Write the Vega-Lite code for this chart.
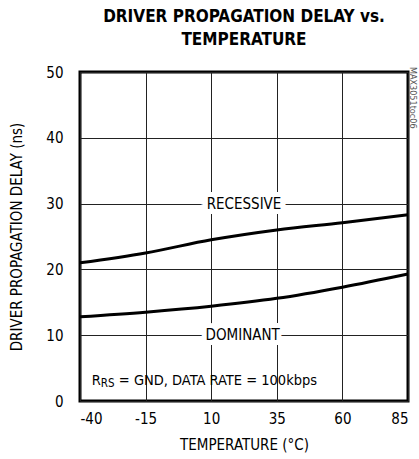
{
  "$schema": "https://vega.github.io/schema/vega-lite/v6.json",
  "width": 328,
  "height": 329,
  "autosize": {"type": "none"},
  "padding": {"left": 80, "top": 72, "right": 11, "bottom": 58},
  "background": "white",
  "config": {
    "font": "DejaVu Sans Condensed, Roboto, sans-serif",
    "view": {"stroke": "black", "strokeWidth": 3},
    "axis": {
      "grid": true, "gridColor": "#222", "gridWidth": 1, "gridOpacity": 1,
      "domain": false, "ticks": false,
      "labelFont": "DejaVu Sans Condensed, Roboto, sans-serif", "labelFontSize": 15, "labelColor": "black",
      "titleFont": "DejaVu Sans Condensed, Roboto, sans-serif", "titleFontSize": 15, "titleFontWeight": "normal", "titleColor": "black"
    }
  },
  "title": {
    "text": ["DRIVER PROPAGATION DELAY vs.", "TEMPERATURE"],
    "font": "DejaVu Sans Condensed, Roboto, sans-serif", "fontSize": 17, "fontWeight": "bold",
    "lineHeight": 23, "offset": 16, "color": "black", "anchor": "middle"
  },
  "datasets": {
    "curves": [
      {"temp": -40, "delay": 21.0, "mode": "RECESSIVE"},
      {"temp": -15, "delay": 22.5, "mode": "RECESSIVE"},
      {"temp": 10, "delay": 24.5, "mode": "RECESSIVE"},
      {"temp": 35, "delay": 26.0, "mode": "RECESSIVE"},
      {"temp": 60, "delay": 27.1, "mode": "RECESSIVE"},
      {"temp": 85, "delay": 28.3, "mode": "RECESSIVE"},
      {"temp": -40, "delay": 12.8, "mode": "DOMINANT"},
      {"temp": -15, "delay": 13.5, "mode": "DOMINANT"},
      {"temp": 10, "delay": 14.4, "mode": "DOMINANT"},
      {"temp": 35, "delay": 15.6, "mode": "DOMINANT"},
      {"temp": 60, "delay": 17.3, "mode": "DOMINANT"},
      {"temp": 85, "delay": 19.3, "mode": "DOMINANT"}
    ],
    "labels": [
      {"temp": 22.5, "delay": 30, "text": "RECESSIVE"},
      {"temp": 22.0, "delay": 10, "text": "DOMINANT"}
    ]
  },
  "layer": [
    {
      "data": {"name": "curves"},
      "mark": {"type": "line", "color": "black", "strokeWidth": 3, "interpolate": "monotone"},
      "encoding": {
        "x": {"field": "temp", "type": "quantitative", "scale": {"domain": [-40, 85], "nice": false},
          "axis": {"values": [-40, -15, 10, 35, 60, 85], "labelExpr": "'' + datum.value", "title": "TEMPERATURE (°C)", "labelPadding": 10, "titlePadding": 11}},
        "y": {"field": "delay", "type": "quantitative", "scale": {"domain": [0, 50], "nice": false},
          "axis": {"values": [0, 10, 20, 30, 40, 50], "title": "DRIVER PROPAGATION DELAY (ns)", "labelPadding": 17, "titlePadding": 21}},
        "detail": {"field": "mode"}
      }
    },
    {
      "data": {"name": "labels"},
      "mark": {"type": "text", "fontSize": 15, "stroke": "white", "strokeWidth": 10, "fill": "white", "baseline": "middle"},
      "encoding": {
        "x": {"field": "temp", "type": "quantitative"},
        "y": {"field": "delay", "type": "quantitative"},
        "text": {"field": "text"}
      }
    },
    {
      "data": {"name": "labels"},
      "mark": {"type": "text", "fontSize": 15, "color": "black", "baseline": "middle"},
      "encoding": {
        "x": {"field": "temp", "type": "quantitative"},
        "y": {"field": "delay", "type": "quantitative"},
        "text": {"field": "text"}
      }
    },
    {
      "data": {"values": [{"temp": -35.5, "delay": 3, "text": "R"}]},
      "mark": {"type": "text", "fontSize": 14.5, "color": "black", "align": "left", "baseline": "middle"},
      "encoding": {
        "x": {"field": "temp", "type": "quantitative"},
        "y": {"field": "delay", "type": "quantitative"},
        "text": {"field": "text"}
      }
    },
    {
      "data": {"values": [{"temp": -35.5, "delay": 3, "text": "RS"}]},
      "mark": {"type": "text", "fontSize": 11.5, "color": "black", "align": "left", "baseline": "middle", "dx": 9, "dy": 3},
      "encoding": {
        "x": {"field": "temp", "type": "quantitative"},
        "y": {"field": "delay", "type": "quantitative"},
        "text": {"field": "text"}
      }
    },
    {
      "data": {"values": [{"temp": -35.5, "delay": 3, "text": "= GND, DATA RATE = 100kbps"}]},
      "mark": {"type": "text", "fontSize": 14.5, "color": "black", "align": "left", "baseline": "middle", "dx": 27},
      "encoding": {
        "x": {"field": "temp", "type": "quantitative"},
        "y": {"field": "delay", "type": "quantitative"},
        "text": {"field": "text"}
      }
    },
    {
      "data": {"values": [{"temp": 85, "delay": 50, "text": "MAX3051toc06"}]},
      "mark": {"type": "text", "fontSize": 9, "color": "#555", "angle": 90, "align": "left", "baseline": "middle", "dx": -5, "dy": -5},
      "encoding": {
        "x": {"field": "temp", "type": "quantitative"},
        "y": {"field": "delay", "type": "quantitative"},
        "text": {"field": "text"}
      }
    }
  ]
}
